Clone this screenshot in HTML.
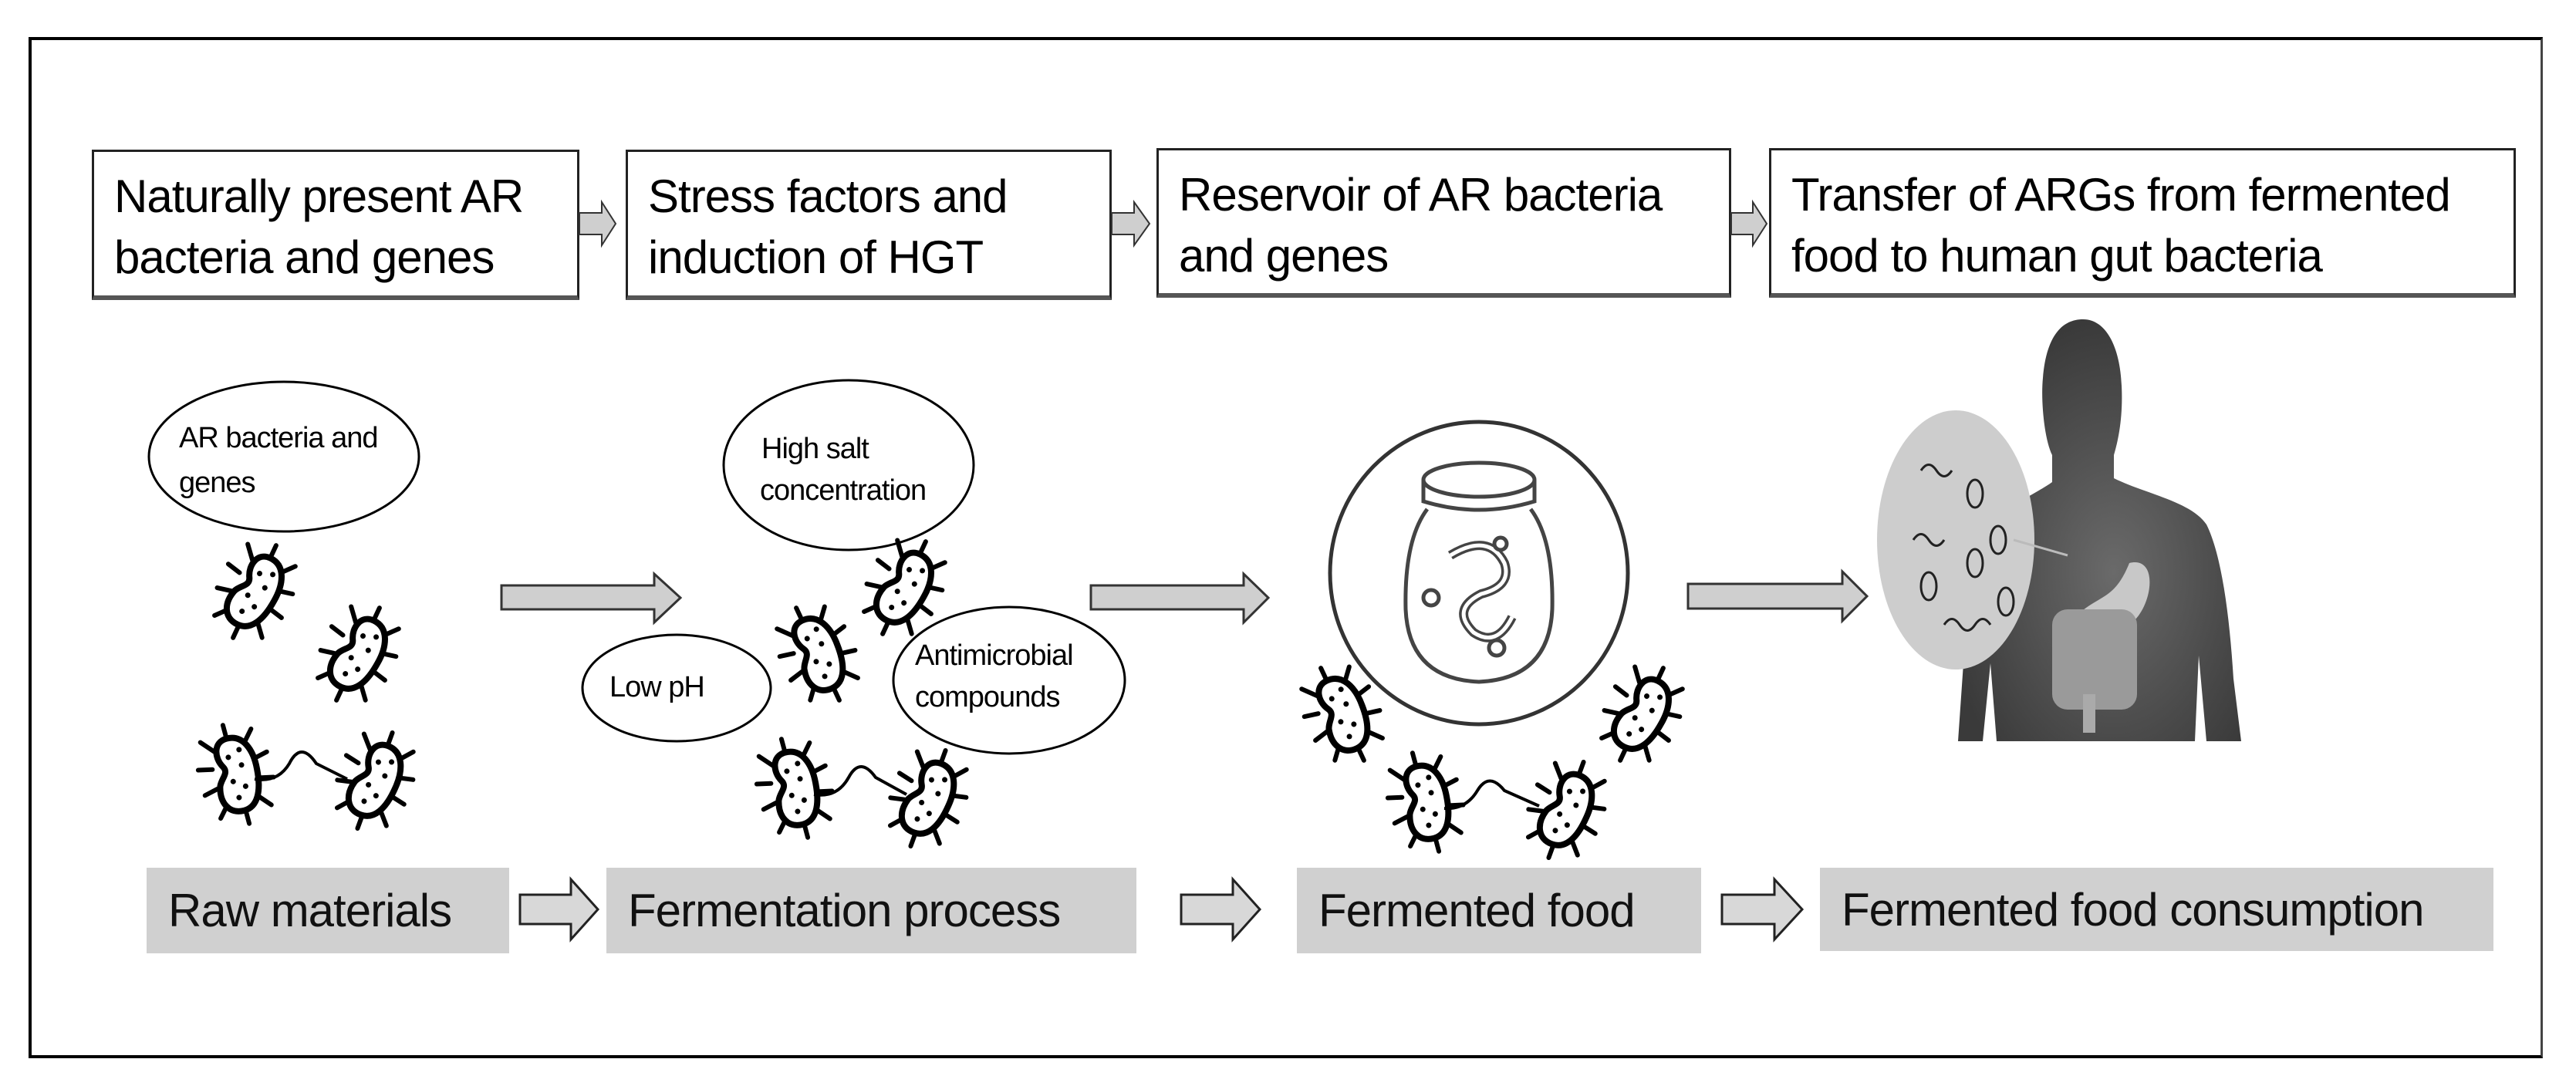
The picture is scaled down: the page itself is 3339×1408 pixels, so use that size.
<!DOCTYPE html>
<html><head><meta charset="utf-8"><style>
body{margin:0;width:3339px;height:1408px;background:#fff;overflow:hidden;position:relative;font-family:"Liberation Sans",sans-serif}
.a{position:absolute}
.tb{position:absolute;border:3px solid #222;border-bottom:6px solid #555;background:#fff;box-sizing:border-box;font-size:60px;line-height:79px;padding:18px 0 0 26px;color:#000;white-space:nowrap;letter-spacing:-1px}
.gb{position:absolute;background:#d0d0d0;font-size:60px;color:#111;box-sizing:border-box;padding-left:28px;display:flex;align-items:center;white-space:nowrap;letter-spacing:-1px}
</style></head><body>
<div class="a" style="left:37px;top:48px;width:3259px;height:1324px;border:4px solid #000;box-sizing:border-box;border-right-color:#444;border-right-width:3px"></div>

<div class="tb" style="left:119px;top:194px;width:632px;height:195px">Naturally present AR<br>bacteria and genes</div>
<div class="tb" style="left:811px;top:194px;width:630px;height:195px">Stress factors and<br>induction of HGT</div>
<div class="tb" style="left:1499px;top:192px;width:745px;height:194px">Reservoir of AR bacteria<br>and genes</div>
<div class="tb" style="left:2293px;top:192px;width:968px;height:194px">Transfer of ARGs from fermented<br>food to human gut bacteria</div>

<div class="gb" style="left:190px;top:1125px;width:470px;height:111px">Raw materials</div>
<div class="gb" style="left:786px;top:1125px;width:687px;height:111px">Fermentation process</div>
<div class="gb" style="left:1681px;top:1125px;width:524px;height:111px">Fermented food</div>
<div class="gb" style="left:2359px;top:1125px;width:873px;height:108px">Fermented food consumption</div>

<svg class="a" style="left:0;top:0" width="3339" height="1408" viewBox="0 0 3339 1408">
<defs>
<g id="bac">
 <g stroke="#000" stroke-width="6" stroke-linecap="round">
  <line x1="0" y1="-46" x2="0" y2="-66"/><line x1="20" y1="-36" x2="34" y2="-52"/><line x1="28" y1="-14" x2="46" y2="-18"/>
  <line x1="28" y1="12" x2="46" y2="16"/><line x1="20" y1="34" x2="34" y2="50"/><line x1="0" y1="46" x2="0" y2="66"/>
  <line x1="-20" y1="34" x2="-34" y2="50"/><line x1="-28" y1="12" x2="-46" y2="16"/><line x1="-28" y1="-14" x2="-46" y2="-18"/><line x1="-20" y1="-36" x2="-34" y2="-52"/>
 </g>
 <path d="M0,-48 C22,-48 30,-25 28,0 C26,30 16,48 -2,48 C-22,48 -30,30 -24,10 C-20,0 -8,-4 -14,-14 C-22,-28 -18,-48 0,-48 Z" fill="#fff" stroke="#000" stroke-width="8"/>
 <g fill="#000"><circle cx="-4" cy="-24" r="3.5"/><circle cx="10" cy="-10" r="3.5"/><circle cx="-6" cy="8" r="3.5"/><circle cx="8" cy="18" r="3.5"/><circle cx="-4" cy="30" r="3.5"/><circle cx="12" cy="-30" r="3.5"/></g>
</g>
<radialGradient id="hg" cx="0.55" cy="0.6" r="0.6"><stop offset="0" stop-color="#6a6a6a"/><stop offset="1" stop-color="#3a3a3a"/></radialGradient>
</defs>

<path d="M751,276 H780 V262 L798,290 L780,318 V304 H751 Z" fill="#cfcfcf" stroke="#333" stroke-width="2"/>
<path d="M1441,276 H1470 V262 L1490,290 L1470,318 V304 H1441 Z" fill="#cfcfcf" stroke="#333" stroke-width="2"/>
<path d="M2244,276 H2272 V262 L2290,290 L2272,318 V304 H2244 Z" fill="#cfcfcf" stroke="#333" stroke-width="2"/>

<path d="M650,759 H848 V744 L882,775 L848,807 V790 H650 Z" fill="#cfcfcf" stroke="#333" stroke-width="3"/>
<path d="M1414,759 H1612 V744 L1644,775 L1612,807 V790 H1414 Z" fill="#cfcfcf" stroke="#333" stroke-width="3"/>
<path d="M2188,757 H2388 V741 L2420,773 L2388,805 V789 H2188 Z" fill="#cfcfcf" stroke="#333" stroke-width="3"/>

<path d="M674,1160 H740 V1140 L775,1179 L740,1218 V1198 H674 Z" fill="#d8d8d8" stroke="#222" stroke-width="3"/>
<path d="M1531,1160 H1598 V1140 L1633,1179 L1598,1218 V1198 H1531 Z" fill="#d8d8d8" stroke="#222" stroke-width="3"/>
<path d="M2232,1160 H2300 V1140 L2336,1179 L2300,1218 V1198 H2232 Z" fill="#d8d8d8" stroke="#222" stroke-width="3"/>

<g fill="#fff" stroke="#000" stroke-width="3">
<ellipse cx="368" cy="592" rx="175" ry="97"/>
<ellipse cx="1100" cy="603" rx="162" ry="110"/>
<ellipse cx="877" cy="892" rx="122" ry="69"/>
<ellipse cx="1308" cy="882" rx="150" ry="95"/>
</g>
<g font-family="Liberation Sans, sans-serif" font-size="38" fill="#000" letter-spacing="-1">
<text x="232" y="580">AR bacteria and</text><text x="232" y="638">genes</text>
<text x="987" y="594">High salt</text><text x="985" y="648">concentration</text>
<text x="790" y="903">Low pH</text>
<text x="1186" y="862">Antimicrobial</text><text x="1186" y="916">compounds</text>
</g>

<use href="#bac" transform="translate(330,767) rotate(25)"/>
<use href="#bac" transform="translate(464,848) rotate(25)"/>
<use href="#bac" transform="translate(306,1004) rotate(-15)"/>
<use href="#bac" transform="translate(486,1012) rotate(20)"/>
<path d="M330,1010 Q360,1015 375,990 Q390,960 410,990 L450,1010" fill="none" stroke="#000" stroke-width="4"/>

<use href="#bac" transform="translate(1172,762) rotate(25)"/>
<use href="#bac" transform="translate(1060,848) rotate(-25)"/>
<use href="#bac" transform="translate(1030,1022) rotate(-15)"/>
<use href="#bac" transform="translate(1203,1035) rotate(20)"/>
<path d="M1055,1030 Q1085,1035 1100,1008 Q1115,980 1135,1008 L1175,1030" fill="none" stroke="#000" stroke-width="4"/>

<use href="#bac" transform="translate(1740,926) rotate(-25)"/>
<use href="#bac" transform="translate(2128,926) rotate(25)"/>
<use href="#bac" transform="translate(1848,1040) rotate(-15)"/>
<use href="#bac" transform="translate(2030,1050) rotate(20)"/>
<path d="M1872,1048 Q1900,1050 1915,1025 Q1930,1000 1950,1025 L1995,1045" fill="none" stroke="#000" stroke-width="4"/>

<ellipse cx="1917" cy="743" rx="193" ry="196" fill="none" stroke="#333" stroke-width="5"/>
<g fill="none" stroke="#444" stroke-width="5">
<ellipse cx="1917" cy="622" rx="72" ry="22"/>
<path d="M1845,622 V650 Q1917,672 1989,650 V622"/>
<path d="M1850,660 Q1820,700 1822,790 Q1826,880 1917,884 Q2008,880 2012,790 Q2014,700 1984,660"/>
<path d="M1880,720 Q1930,690 1950,730 Q1960,760 1920,770 Q1880,790 1910,820 Q1940,840 1960,800" stroke-width="12"/>
<path d="M1880,720 Q1930,690 1950,730 Q1960,760 1920,770 Q1880,790 1910,820 Q1940,840 1960,800" stroke="#fff" stroke-width="5"/>
<circle cx="1855" cy="775" r="10"/><circle cx="1940" cy="840" r="10"/><circle cx="1945" cy="705" r="8"/>
</g>

<path d="M2700,414 C2730,414 2748,450 2750,500 C2752,540 2746,570 2740,590 L2740,620 C2780,640 2840,650 2860,680 C2880,720 2890,800 2895,880 L2905,961 L2860,961 L2850,850 L2845,961 L2588,961 L2580,860 L2570,961 L2538,961 L2545,860 C2550,780 2560,720 2575,690 C2590,660 2640,640 2660,625 L2660,590 C2650,570 2645,520 2648,490 C2652,440 2670,414 2700,414 Z" fill="url(#hg)"/>
<ellipse cx="2535" cy="700" rx="102" ry="168" fill="#cdcdcd"/>
<g fill="none" stroke="#222" stroke-width="3">
<path d="M2490,610 q10,-15 20,0 t20,0"/><path d="M2480,700 q10,-15 20,0 t20,0"/><path d="M2520,810 q10,-15 20,0 t20,0 t20,0"/>
<ellipse cx="2560" cy="640" rx="10" ry="18"/><ellipse cx="2590" cy="700" rx="10" ry="18"/><ellipse cx="2500" cy="760" rx="10" ry="18"/><ellipse cx="2600" cy="780" rx="10" ry="18"/><ellipse cx="2560" cy="730" rx="10" ry="18"/>
<line x1="2610" y1="700" x2="2680" y2="720" stroke="#bbb"/>
</g>
<path d="M2760,730 C2800,720 2790,790 2760,810 C2730,830 2720,800 2700,820 L2690,800 C2720,770 2740,780 2760,730 Z" fill="#c8c8c8"/>
<rect x="2660" y="790" width="110" height="130" rx="20" fill="#9a9a9a"/>
<rect x="2700" y="900" width="16" height="50" fill="#aaa"/>
</svg>
</body></html>
